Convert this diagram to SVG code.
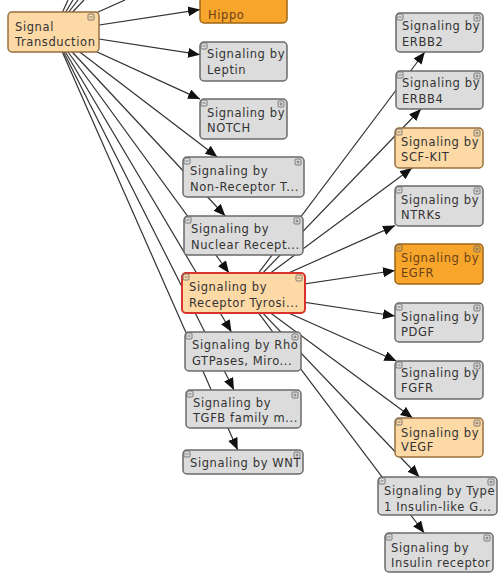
<svg xmlns="http://www.w3.org/2000/svg" width="498" height="574" viewBox="0 0 498 574">
<style>
.box{stroke-width:1.5}
.g{fill:#dcdcdc;stroke:#6a6a6a}
.lo{fill:#fdd9a6;stroke:#96703f}
.do{fill:#f8a52c;stroke:#9e6518}
.sel{fill:#fdd9a6;stroke:#d8342c;stroke-width:2}
text{font-family:"DejaVu Sans","Liberation Sans",sans-serif;font-size:11.5px;letter-spacing:0.6px;fill:#333}
.edge{stroke:#333;stroke-width:1.2;fill:none}
.ic{fill:none;stroke:#6e6e6e;stroke-width:0.9}
</style>
<defs>
<marker id="arr" markerUnits="userSpaceOnUse" markerWidth="13" markerHeight="11" refX="12" refY="5" orient="auto">
<path d="M0,0 L12,5 L0,10 z" fill="#111"/>
</marker>
<g id="minus"><rect x="0" y="0" width="6" height="6" rx="1" class="ic"/><line x1="1.5" y1="3" x2="4.5" y2="3" class="ic"/></g>
<g id="plus"><rect x="0" y="0" width="6" height="6" rx="1" class="ic"/><line x1="1.5" y1="3" x2="4.5" y2="3" class="ic"/><line x1="3" y1="1.5" x2="3" y2="4.5" class="ic"/></g>
</defs>
<g id="connectors">
<line class="edge" x1="53.5" y1="32" x2="68" y2="0"/>
<line class="edge" x1="53.5" y1="32" x2="73" y2="0"/>
<line class="edge" x1="53.5" y1="32" x2="78" y2="0"/>
<line class="edge" x1="53.5" y1="32" x2="84" y2="0"/>
<line class="edge" x1="53.5" y1="32" x2="125" y2="0"/>
<line class="edge" x1="53.5" y1="32" x2="200" y2="9.6" marker-end="url(#arr)"/>
<line class="edge" x1="53.5" y1="32" x2="200" y2="54.7" marker-end="url(#arr)"/>
<line class="edge" x1="53.5" y1="32" x2="200" y2="99.1" marker-end="url(#arr)"/>
<line class="edge" x1="53.5" y1="32" x2="217.3" y2="157" marker-end="url(#arr)"/>
<line class="edge" x1="53.5" y1="32" x2="225.3" y2="216" marker-end="url(#arr)"/>
<line class="edge" x1="53.5" y1="32" x2="229" y2="273" marker-end="url(#arr)"/>
<line class="edge" x1="53.5" y1="32" x2="231.5" y2="332" marker-end="url(#arr)"/>
<line class="edge" x1="53.5" y1="32" x2="234" y2="390" marker-end="url(#arr)"/>
<line class="edge" x1="53.5" y1="32" x2="237.7" y2="450" marker-end="url(#arr)"/>
<line class="edge" x1="243.5" y1="293" x2="424.8" y2="52" marker-end="url(#arr)"/>
<line class="edge" x1="243.5" y1="293" x2="421" y2="109" marker-end="url(#arr)"/>
<line class="edge" x1="243.5" y1="293" x2="412" y2="168" marker-end="url(#arr)"/>
<line class="edge" x1="243.5" y1="293" x2="395" y2="225.6" marker-end="url(#arr)"/>
<line class="edge" x1="243.5" y1="293" x2="395" y2="270.5" marker-end="url(#arr)"/>
<line class="edge" x1="243.5" y1="293" x2="395" y2="316" marker-end="url(#arr)"/>
<line class="edge" x1="243.5" y1="293" x2="396.4" y2="361" marker-end="url(#arr)"/>
<line class="edge" x1="243.5" y1="293" x2="412.6" y2="418" marker-end="url(#arr)"/>
<line class="edge" x1="243.5" y1="293" x2="419.3" y2="477" marker-end="url(#arr)"/>
<line class="edge" x1="243.5" y1="293" x2="424.3" y2="533" marker-end="url(#arr)"/>
</g>
<g id="n-signal-transduction">
<rect class="box lo" x="8" y="12" width="91" height="40" rx="4"/>
<use href="#minus" x="88" y="14"/>
<text x="15" y="31">Signal</text>
<text x="15" y="46">Transduction</text>
</g>
<g id="n-hippo">
<rect class="box do" x="200" y="-17" width="87" height="40" rx="4"/>
<text x="208" y="19" style="fill:#6b4216">Hippo</text>
</g>
<g id="n-leptin">
<rect class="box g" x="200" y="42" width="87" height="39" rx="4"/>
<use href="#minus" x="201" y="43"/>
<text x="207" y="58">Signaling by</text>
<text x="207" y="74">Leptin</text>
</g>
<g id="n-notch">
<rect class="box g" x="200" y="99" width="87" height="40" rx="4"/>
<use href="#minus" x="201" y="100"/>
<use href="#plus" x="278" y="101"/>
<text x="207" y="117">Signaling by</text>
<text x="207" y="132">NOTCH</text>
</g>
<g id="n-non-receptor">
<rect class="box g" x="183" y="157" width="121" height="40" rx="4"/>
<use href="#minus" x="184" y="158"/>
<use href="#plus" x="295" y="159"/>
<text x="190" y="175">Signaling by</text>
<text x="190" y="191">Non-Receptor T...</text>
</g>
<g id="n-nuclear">
<rect class="box g" x="184" y="216" width="119" height="39" rx="4"/>
<use href="#minus" x="185" y="217"/>
<use href="#plus" x="294" y="218"/>
<text x="191" y="233">Signaling by</text>
<text x="191" y="249">Nuclear Recept...</text>
</g>
<g id="n-rtk">
<rect class="box sel" x="182" y="273" width="123" height="40" rx="4"/>
<use href="#minus" x="183" y="274"/>
<use href="#minus" x="296" y="275"/>
<text x="189" y="291">Signaling by</text>
<text x="189" y="307">Receptor Tyrosi...</text>
</g>
<g id="n-rho">
<rect class="box g" x="185" y="332" width="116" height="39" rx="4"/>
<use href="#minus" x="186" y="333"/>
<use href="#plus" x="292" y="334"/>
<text x="192" y="349">Signaling by Rho</text>
<text x="192" y="365">GTPases, Miro...</text>
</g>
<g id="n-tgfb">
<rect class="box g" x="186" y="390" width="115" height="38" rx="4"/>
<use href="#minus" x="187" y="391"/>
<use href="#plus" x="292" y="392"/>
<text x="193" y="407">Signaling by</text>
<text x="193" y="422">TGFB family m...</text>
</g>
<g id="n-wnt">
<rect class="box g" x="183" y="450" width="120" height="24" rx="4"/>
<use href="#minus" x="184" y="451"/>
<use href="#plus" x="294" y="452"/>
<text x="190" y="467">Signaling by WNT</text>
</g>
<g id="n-erbb2">
<rect class="box g" x="396" y="13" width="87" height="39" rx="4"/>
<use href="#minus" x="397" y="14"/>
<use href="#plus" x="474" y="15"/>
<text x="402" y="30">Signaling by</text>
<text x="402" y="46">ERBB2</text>
</g>
<g id="n-erbb4">
<rect class="box g" x="396" y="71" width="87" height="38" rx="4"/>
<use href="#minus" x="397" y="72"/>
<use href="#plus" x="474" y="73"/>
<text x="402" y="87">Signaling by</text>
<text x="402" y="103">ERBB4</text>
</g>
<g id="n-scf-kit">
<rect class="box lo" x="395" y="128" width="88" height="40" rx="4"/>
<use href="#minus" x="396" y="129"/>
<use href="#plus" x="474" y="130"/>
<text x="401" y="146">Signaling by</text>
<text x="401" y="161">SCF-KIT</text>
</g>
<g id="n-ntrks">
<rect class="box g" x="395" y="186" width="88" height="40" rx="4"/>
<use href="#minus" x="396" y="187"/>
<use href="#plus" x="474" y="188"/>
<text x="401" y="204">Signaling by</text>
<text x="401" y="219">NTRKs</text>
</g>
<g id="n-egfr">
<rect class="box do" x="395" y="244" width="88" height="40" rx="4"/>
<use href="#minus" x="396" y="245"/>
<use href="#plus" x="474" y="246"/>
<text x="401" y="262" style="fill:#6b4216">Signaling by</text>
<text x="401" y="277" style="fill:#6b4216">EGFR</text>
</g>
<g id="n-pdgf">
<rect class="box g" x="395" y="303" width="88" height="39" rx="4"/>
<use href="#minus" x="396" y="304"/>
<use href="#plus" x="474" y="305"/>
<text x="401" y="321">Signaling by</text>
<text x="401" y="336">PDGF</text>
</g>
<g id="n-fgfr">
<rect class="box g" x="395" y="361" width="88" height="38" rx="4"/>
<use href="#minus" x="396" y="362"/>
<use href="#plus" x="474" y="363"/>
<text x="401" y="377">Signaling by</text>
<text x="401" y="392">FGFR</text>
</g>
<g id="n-vegf">
<rect class="box lo" x="395" y="418" width="88" height="39" rx="4"/>
<use href="#minus" x="396" y="419"/>
<use href="#plus" x="474" y="420"/>
<text x="401" y="437">Signaling by</text>
<text x="401" y="451">VEGF</text>
</g>
<g id="n-type1-insulin-like">
<rect class="box g" x="378" y="477" width="119" height="38" rx="4"/>
<use href="#minus" x="379" y="478"/>
<use href="#plus" x="488" y="479"/>
<text x="384" y="495">Signaling by Type</text>
<text x="384" y="511">1 Insulin-like G...</text>
</g>
<g id="n-insulin-receptor">
<rect class="box g" x="385" y="533" width="108" height="39" rx="4"/>
<use href="#minus" x="386" y="534"/>
<use href="#plus" x="484" y="535"/>
<text x="391" y="552">Signaling by</text>
<text x="391" y="567">Insulin receptor</text>
</g>
</svg>
